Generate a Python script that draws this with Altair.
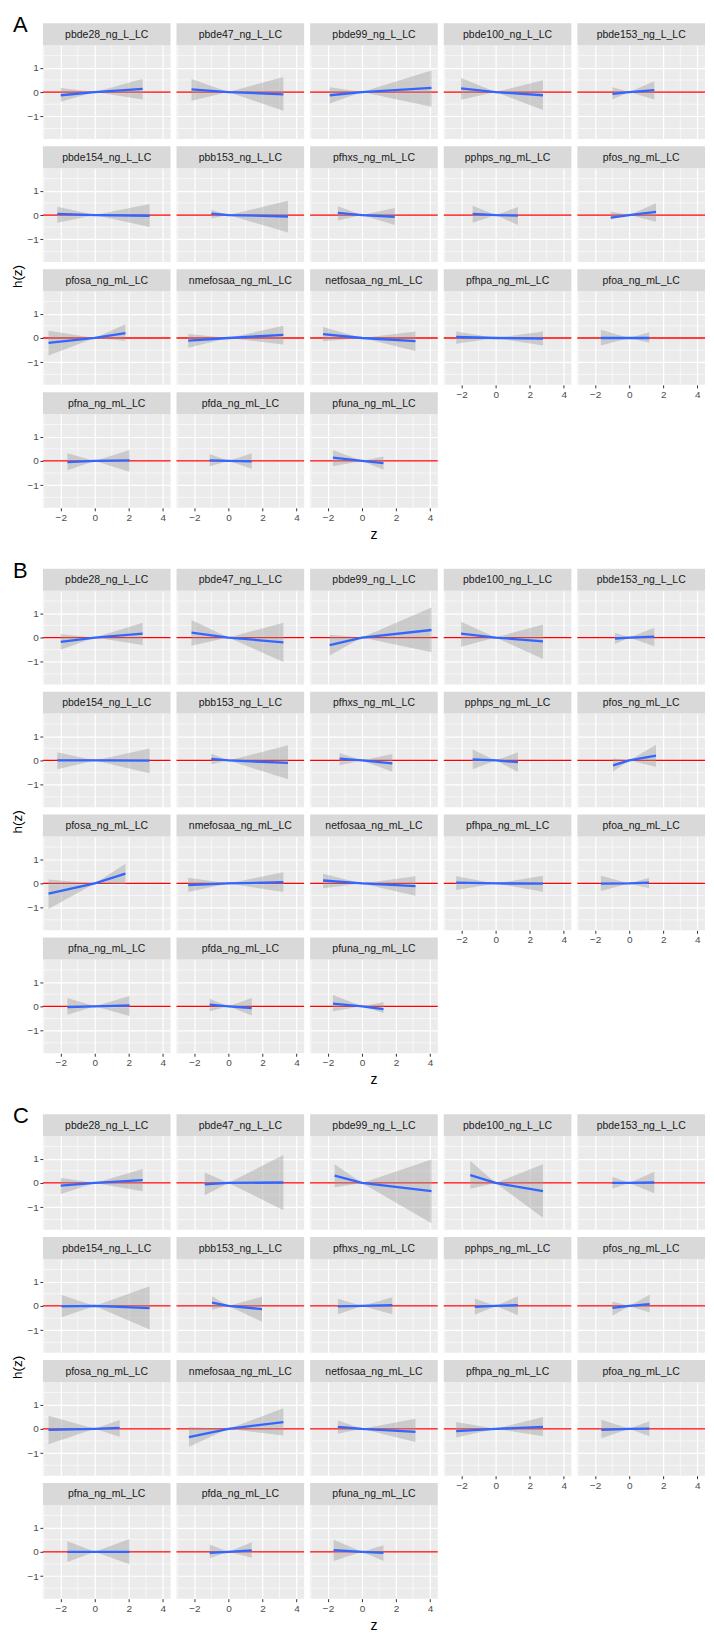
import altair as alt
import pandas as pd

VARS = ["pbde28_ng_L_LC", "pbde47_ng_L_LC", "pbde99_ng_L_LC", "pbde100_ng_L_LC", "pbde153_ng_L_LC",
        "pbde154_ng_L_LC", "pbb153_ng_L_LC", "pfhxs_ng_mL_LC", "pphps_ng_mL_LC", "pfos_ng_mL_LC",
        "pfosa_ng_mL_LC", "nmefosaa_ng_mL_LC", "netfosaa_ng_mL_LC", "pfhpa_ng_mL_LC", "pfoa_ng_mL_LC",
        "pfna_ng_mL_LC", "pfda_ng_mL_LC", "pfuna_ng_mL_LC"]

# ---- Section A ----
A_z_lo = [-2.0, -2.17, -1.9, -2.03, -0.99, -2.2, -1.0, -1.42, -1.35, -1.09, -2.72, -2.36, -2.29, -2.32, -1.67, -1.61, -1.1, -1.71]
A_z_hi = [2.81, 3.23, 4.08, 2.78, 1.47, 3.22, 3.5, 1.92, 1.31, 1.57, 1.8, 3.23, 3.14, 2.78, 1.18, 2.04, 1.37, 1.26]
A_h_lo = [-0.13, 0.11, -0.13, 0.15, -0.07, 0.05, 0.06, 0.09, 0.05, -0.11, -0.2, -0.11, 0.16, 0.04, 0.0, -0.05, 0.02, 0.14]
A_h_hi = [0.13, -0.09, 0.17, -0.13, 0.08, -0.03, -0.06, -0.07, -0.02, 0.13, 0.2, 0.13, -0.13, -0.03, 0.0, 0.02, -0.02, -0.09]
A_lower_lo = [-0.40, -0.36, -0.47, -0.32, -0.3, -0.32, -0.14, -0.22, -0.32, -0.18, -0.72, -0.4, -0.13, -0.24, -0.31, -0.38, -0.22, -0.22]
A_upper_lo = [0.17, 0.54, 0.2, 0.58, 0.2, 0.34, 0.22, 0.36, 0.38, 0.15, 0.3, 0.16, 0.45, 0.27, 0.34, 0.32, 0.29, 0.45]
A_lower_hi = [-0.30, -0.77, -0.6, -0.74, -0.3, -0.49, -0.72, -0.41, -0.41, -0.28, -0.11, -0.27, -0.54, -0.31, -0.2, -0.45, -0.32, -0.36]
A_upper_hi = [0.54, 0.62, 0.89, 0.49, 0.45, 0.45, 0.59, 0.29, 0.33, 0.49, 0.57, 0.5, 0.27, 0.27, 0.24, 0.45, 0.32, 0.18]

# ---- Section B ----
B_z_lo = [-2.0, -2.17, -1.9, -2.03, -0.84, -2.2, -1.0, -1.32, -1.35, -0.95, -2.72, -2.36, -2.29, -2.32, -1.67, -1.61, -1.1, -1.71]
B_z_hi = [2.81, 3.23, 4.08, 2.78, 1.47, 3.22, 3.5, 1.78, 1.31, 1.57, 1.8, 3.23, 3.14, 2.78, 1.16, 2.04, 1.37, 1.26]
B_h_lo = [-0.18, 0.2, -0.31, 0.16, -0.04, 0.0, 0.07, 0.08, 0.04, -0.2, -0.42, -0.07, 0.12, 0.03, -0.01, -0.03, 0.07, 0.11]
B_h_hi = [0.16, -0.2, 0.31, -0.16, 0.04, -0.01, -0.1, -0.12, -0.07, 0.2, 0.4, 0.05, -0.11, -0.01, 0.03, 0.04, -0.07, -0.11]
B_lower_lo = [-0.5, -0.34, -0.74, -0.38, -0.27, -0.36, -0.16, -0.2, -0.36, -0.45, -1.05, -0.35, -0.2, -0.27, -0.31, -0.34, -0.2, -0.2]
B_upper_lo = [0.14, 0.72, 0.11, 0.65, 0.2, 0.34, 0.28, 0.31, 0.45, 0.08, 0.16, 0.23, 0.4, 0.3, 0.32, 0.34, 0.31, 0.47]
B_lower_hi = [-0.31, -1.01, -0.61, -0.88, -0.36, -0.53, -0.77, -0.46, -0.47, -0.26, -0.02, -0.35, -0.51, -0.34, -0.2, -0.4, -0.38, -0.27]
B_upper_hi = [0.61, 0.61, 1.24, 0.54, 0.4, 0.49, 0.63, 0.27, 0.34, 0.65, 0.81, 0.46, 0.3, 0.32, 0.23, 0.43, 0.34, 0.17]

# ---- Section C ----
C_z_lo = [-2.0, -1.39, -1.61, -1.49, -0.99, -1.95, -0.96, -1.42, -1.22, -0.99, -2.72, -2.32, -1.42, -2.32, -1.64, -1.61, -1.1, -1.67]
C_z_hi = [2.81, 3.23, 4.08, 2.78, 1.47, 3.22, 1.97, 1.78, 1.31, 1.2, 1.46, 3.23, 3.14, 2.78, 1.18, 2.04, 1.37, 1.26]
C_h_lo = [-0.11, -0.06, 0.3, 0.32, 0.0, -0.02, 0.14, -0.02, -0.04, -0.08, -0.04, -0.34, 0.08, -0.09, -0.04, 0.0, -0.04, 0.07]
C_h_hi = [0.12, 0.02, -0.34, -0.34, 0.02, -0.09, -0.13, 0.03, 0.03, 0.07, 0.04, 0.28, -0.12, 0.08, 0.01, 0.0, 0.06, -0.04]
C_lower_lo = [-0.45, -0.51, -0.18, -0.24, -0.24, -0.47, -0.16, -0.34, -0.36, -0.4, -0.63, -0.74, -0.2, -0.36, -0.39, -0.42, -0.27, -0.38]
C_upper_lo = [0.2, 0.43, 0.77, 0.9, 0.26, 0.45, 0.4, 0.3, 0.31, 0.18, 0.54, 0.07, 0.34, 0.28, 0.38, 0.43, 0.3, 0.5]
C_lower_hi = [-0.34, -1.12, -1.66, -1.43, -0.42, -0.97, -0.65, -0.34, -0.38, -0.27, -0.32, -0.27, -0.54, -0.3, -0.3, -0.51, -0.24, -0.38]
C_upper_hi = [0.57, 1.15, 0.97, 0.77, 0.46, 0.81, 0.38, 0.36, 0.4, 0.46, 0.36, 0.85, 0.42, 0.49, 0.31, 0.53, 0.39, 0.27]

SECTIONS = {
    "A": (A_z_lo, A_z_hi, A_h_lo, A_h_hi, A_lower_lo, A_upper_lo, A_lower_hi, A_upper_hi),
    "B": (B_z_lo, B_z_hi, B_h_lo, B_h_hi, B_lower_lo, B_upper_lo, B_lower_hi, B_upper_hi),
    "C": (C_z_lo, C_z_hi, C_h_lo, C_h_hi, C_lower_lo, C_upper_lo, C_lower_hi, C_upper_hi),
}

X_MAJOR = [-2, 0, 2, 4]
X_MINOR = [-3, -1, 1, 3]
Y_MAJOR = [-1, 0, 1]
Y_MINOR = [-1.5, -0.5, 0.5, 1.5]
X_DOMAIN = [-3.05, 4.45]
Y_DOMAIN = [-1.93, 1.93]

rows = []
for sec, (zl, zh, hl, hh, ll, ul, lh, uh) in SECTIONS.items():
    for i, v in enumerate(VARS):
        rows.append(dict(sec=sec, var=v, z=zl[i], est=hl[i], lo=ll[i], hi=ul[i]))
        rows.append(dict(sec=sec, var=v, z=0.0, est=0.0, lo=0.0, hi=0.0))
        rows.append(dict(sec=sec, var=v, z=zh[i], est=hh[i], lo=lh[i], hi=uh[i]))
df = pd.DataFrame(rows)

W, H = 128, 94
STRIP = 22
GAP = 7.3
FONT = "Liberation Sans"
PITCH = H + STRIP + GAP


def panel(sec, name, show_x, show_y, extras=()):
    d = df[(df["sec"] == sec) & (df["var"] == name)]
    xs = alt.Scale(domain=X_DOMAIN, nice=False, zero=False)
    ys = alt.Scale(domain=Y_DOMAIN, nice=False, zero=False)
    xaxis = alt.Axis(values=X_MAJOR, title="", grid=True, domain=False,
                     labels=bool(show_x), ticks=bool(show_x), labelFlush=False,
                     gridColor="white", gridWidth=1.2)
    yaxis = alt.Axis(values=Y_MAJOR, title="", grid=True, domain=False,
                     labels=bool(show_y), ticks=bool(show_y),
                     gridColor="white", gridWidth=1.2)
    X = lambda f: alt.X(f, scale=xs, axis=xaxis)
    Y = lambda f: alt.Y(f, scale=ys, axis=yaxis)
    vminor = alt.Chart(pd.DataFrame({"z": X_MINOR})).mark_rule(
        color="white", strokeWidth=0.6).encode(x=X("z:Q"))
    hminor = alt.Chart(pd.DataFrame({"lo": Y_MINOR})).mark_rule(
        color="white", strokeWidth=0.6).encode(y=Y("lo:Q"))
    zero = alt.Chart(pd.DataFrame({"lo": [0]})).mark_rule(
        color="#FF0000", strokeWidth=1.3).encode(y=Y("lo:Q"))
    band = alt.Chart(d).mark_area(color="#999999", opacity=0.4).encode(
        x=X("z:Q"), y=Y("lo:Q"), y2="hi:Q")
    line = alt.Chart(d).mark_line(color="#3366FF", strokeWidth=2.3).encode(
        x=X("z:Q"), y=Y("est:Q"))
    sdf = pd.DataFrame({"label": [name]})
    strip = alt.Chart(sdf).mark_rect(color="#D9D9D9").encode(
        x=alt.value(0), x2=alt.value(W), y=alt.value(-STRIP), y2=alt.value(0))
    slabel = alt.Chart(sdf).mark_text(font=FONT, fontSize=10.5, color="#1A1A1A",
                                      align="center", baseline="middle").encode(
        x=alt.value(W / 2), y=alt.value(-STRIP / 2 + 0.5), text="label:N")
    layers = [vminor, hminor, zero, band, line, strip, slabel] + list(extras)
    return alt.layer(*layers).properties(width=W, height=H)


def text_layer(txt, x, y, size, angle=0, align="center", baseline="middle"):
    kw = dict(font=FONT, fontSize=size, color="black", align=align, baseline=baseline)
    if angle:
        kw["angle"] = angle
    return alt.Chart(pd.DataFrame({"t": [txt]})).mark_text(**kw).encode(
        x=alt.value(x), y=alt.value(y), text="t:N")


def section(sec):
    panels = []
    for idx, name in enumerate(VARS):
        r, c = divmod(idx, 5)
        show_x = (r == 3) or (r == 2 and c >= 3)
        show_y = c == 0
        extras = []
        if r == 0 and c == 0:
            extras.append(text_layer(sec, -30, -13, 22, align="left", baseline="alphabetic"))
        if r == 1 and c == 0:
            center = (3 * PITCH + H) / 2 - PITCH
            extras.append(text_layer("h(z)", -21, center, 13.5, angle=270,
                                     baseline="alphabetic"))
        if r == 3 and c == 2:
            extras.append(text_layer("z", W / 2, H + 27, 14))
        panels.append(panel(sec, name, show_x, show_y, extras))
    return alt.concat(*panels, columns=5, bounds="flush",
                      spacing=alt.RowColnumber(row=STRIP + GAP, column=6))


chart = alt.vconcat(section("A"), section("B"), section("C"),
                    spacing=18).properties(
    padding={"top": 4, "left": 2, "right": 0, "bottom": 0}
).configure_view(
    fill="#EBEBEB", strokeWidth=0
).configure_axis(
    labelFont=FONT, labelFontSize=10, labelColor="#4D4D4D",
    tickColor="#333333", tickSize=3, tickWidth=1, labelPadding=1.5
)

chart.save("out.html", embed_options={"renderer": "svg", "actions": False})
